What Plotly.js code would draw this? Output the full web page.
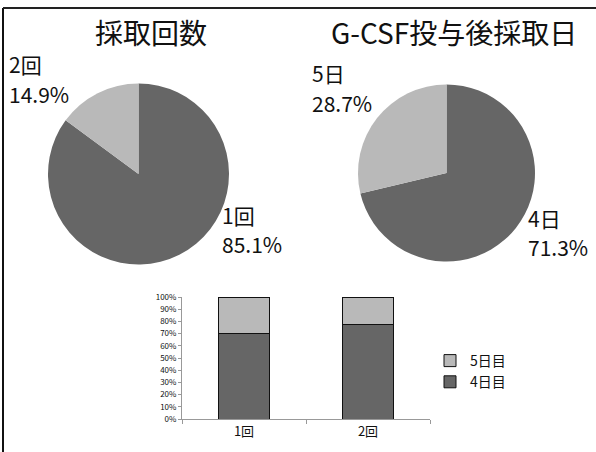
<!DOCTYPE html>
<html>
<head>
<meta charset="utf-8">
<script src="https://cdn.plot.ly/plotly-3.0.1.min.js"></script>
<style>html,body{margin:0;padding:0;background:#fff;}#chart{width:596px;height:452px;}</style>
</head>
<body>
<div id="chart"></div>
<script>
// ---- data ----
const pie1Title = '採取回数';
const pie1Labels = ['1回', '2回'];
const pie1Values = [85.1, 14.9];

const pie2Title = 'G-CSF投与後採取日';
const pie2Labels = ['4日', '5日'];
const pie2Values = [71.3, 28.7];

const barCategories = ['1回', '2回'];
const barSeriesNames = ['4日目', '5日目'];
const bar4Values = [70.4, 77.4];
const bar5Values = [29.6, 22.6];
const yTickVals = [0, 10, 20, 30, 40, 50, 60, 70, 80, 90, 100];
const yTickText = yTickVals.map(v => v + '%');

// ---- styling helpers ----
const W = 596, H = 452;
const px = x => x / W;
const py = y => 1 - y / H;
const DARK = '#666666';
const LIGHT = '#b9b9b9';
const FONT = '"Noto Sans CJK JP", "Noto Sans", sans-serif';

function pieDomain(cx, cy, r) {
  return { x: [px(cx - r), px(cx + r)], y: [py(cy + r), py(cy - r)] };
}

const traces = [
  {
    type: 'pie', labels: pie1Labels, values: pie1Values, sort: false,
    direction: 'clockwise', rotation: 0, textinfo: 'none', hoverinfo: 'label+percent',
    marker: { colors: [DARK, LIGHT], line: { width: 0 } },
    domain: pieDomain(138.5, 174, 90.5), showlegend: false
  },
  {
    type: 'pie', labels: pie2Labels, values: pie2Values, sort: false,
    direction: 'clockwise', rotation: 0, textinfo: 'none', hoverinfo: 'label+percent',
    marker: { colors: [DARK, LIGHT], line: { width: 0 } },
    domain: pieDomain(446.5, 173, 88.5), showlegend: false
  },
  {
    type: 'bar', x: barCategories, y: bar4Values, name: barSeriesNames[0],
    marker: { color: DARK, line: { color: '#111', width: 1 } }, width: 0.41
  },
  {
    type: 'bar', x: barCategories, y: bar5Values, name: barSeriesNames[1],
    marker: { color: LIGHT, line: { color: '#111', width: 1 } }, width: 0.41
  }
];

function pct(v) { return v.toFixed(1) + '%'; }
const labelFont = { family: FONT, size: 21, color: '#111' };
function lab(text, x, y) {
  return { text: text, x: px(x), y: py(y), xref: 'paper', yref: 'paper', borderpad: 0,
    xanchor: 'left', yanchor: 'middle', align: 'left', showarrow: false, font: labelFont };
}

const annotations = [
  { text: pie1Title, x: px(151), y: py(10), xref: 'paper', yref: 'paper', xanchor: 'center', yanchor: 'top',
    showarrow: false, font: { family: FONT, size: 28, color: '#111' } },
  { text: pie2Title, x: px(453.5), y: py(10), xref: 'paper', yref: 'paper', xanchor: 'center', yanchor: 'top',
    showarrow: false, font: { family: FONT, size: 28, color: '#111' } },
  lab(pie1Labels[1], 8, 64),
  lab(pct(pie1Values[1]), 8, 94),
  lab(pie1Labels[0], 221, 215),
  lab(pct(pie1Values[0]), 221, 244),
  lab(pie2Labels[1], 311, 73),
  lab(pct(pie2Values[1]), 311, 103),
  lab(pie2Labels[0], 527, 218),
  lab(pct(pie2Values[0]), 527, 247)
];

const layout = {
  width: W, height: H,
  margin: { l: 0, r: 0, t: 0, b: 0 },
  paper_bgcolor: '#fff', plot_bgcolor: '#fff',
  font: { family: FONT, color: '#111' },
  barmode: 'stack',
  xaxis: {
    domain: [px(182), px(430)], showline: true, linecolor: '#999', linewidth: 1,
    ticks: 'outside', tickson: 'boundaries', ticklen: 4, tickcolor: '#999',
    tickfont: { family: FONT, size: 13, color: '#111' }, fixedrange: true
  },
  yaxis: {
    domain: [py(419), py(297)], range: [0, 100], tickmode: 'array', tickvals: yTickVals, ticktext: yTickText,
    showline: true, linecolor: '#999', linewidth: 1, showgrid: false, zeroline: false,
    ticks: 'outside', ticklen: 3, tickcolor: '#999',
    tickfont: { family: FONT, size: 8, color: '#111' }, fixedrange: true
  },
  legend: {
    x: px(430), y: py(345), xanchor: 'left', yanchor: 'top', traceorder: 'reversed',
    font: { family: FONT, size: 14, color: '#111' }, itemwidth: 30, tracegroupgap: 0,
    bgcolor: 'rgba(0,0,0,0)'
  },
  annotations: annotations,
  shapes: [
    { type: 'line', xref: 'paper', yref: 'paper', x0: px(3), x1: px(3), y0: 0, y1: py(8), line: { color: '#111', width: 2 } },
    { type: 'line', xref: 'paper', yref: 'paper', x0: px(3), x1: 1, y0: py(8), y1: py(8), line: { color: '#222', width: 2 } }
  ]
};

Plotly.newPlot('chart', traces, layout, { displayModeBar: false, staticPlot: true });
</script>
</body>
</html>
